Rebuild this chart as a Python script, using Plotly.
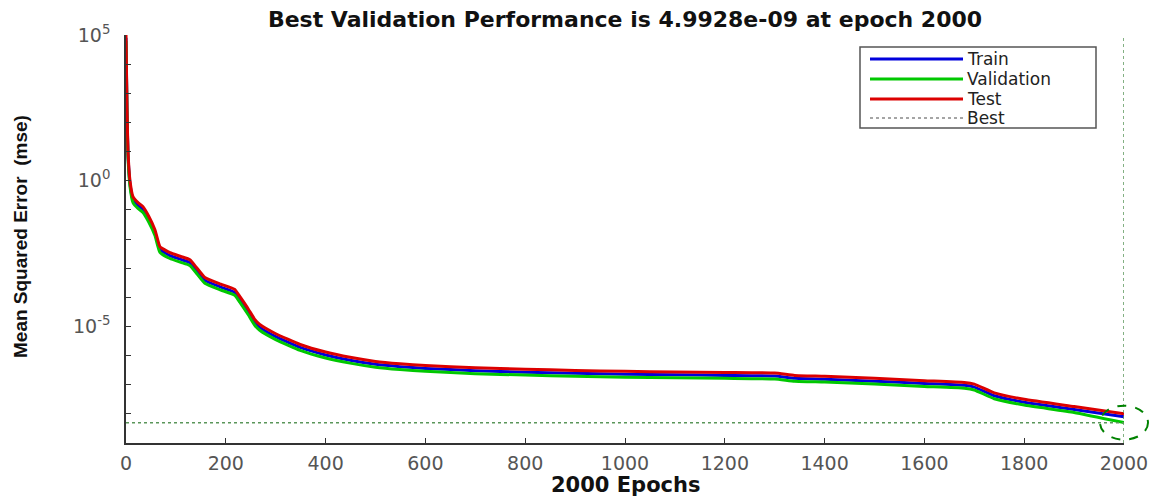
import math
import plotly.graph_objects as go

# ---- data ----
epochs = [0, 2, 4, 8, 14, 24, 34, 45, 58, 68,
          88, 110, 128, 140, 158, 190, 218, 228, 245, 258,
          268, 300, 349, 400, 449, 500, 549, 600, 700, 800,
          900, 1000, 1100, 1200, 1300, 1340, 1400, 1500, 1600, 1680,
          1700, 1740, 1800, 1900, 2000]

test_mse = [1e5, 3.16e2, 1e1, 1.0, 0.282, 0.178, 0.129, 0.0631, 0.0209, 5.5e-3,
            3.39e-3, 2.51e-3, 1.95e-3, 1.12e-3, 4.79e-4, 2.82e-4, 1.86e-4, 1.07e-4, 3.98e-5, 1.74e-5,
            1.17e-5, 5.62e-6, 2.40e-6, 1.32e-6, 8.71e-7, 6.31e-7, 5.25e-7, 4.57e-7, 3.80e-7, 3.39e-7,
            3.09e-7, 2.88e-7, 2.75e-7, 2.63e-7, 2.51e-7, 2.09e-7, 1.95e-7, 1.66e-7, 1.38e-7, 1.20e-7,
            1.05e-7, 5.25e-8, 3.16e-8, 1.78e-8, 1.0e-8]

train_mse = [8e4, 2.5e2, 7.9, 0.79, 0.224, 0.141, 0.102, 0.0501, 0.0166, 4.37e-3,
             2.69e-3, 1.99e-3, 1.55e-3, 8.9e-4, 3.8e-4, 2.24e-4, 1.48e-4, 8.5e-5, 3.16e-5, 1.38e-5,
             9.3e-6, 4.47e-6, 1.91e-6, 1.05e-6, 6.9e-7, 5.0e-7, 4.17e-7, 3.63e-7, 3.02e-7, 2.69e-7,
             2.45e-7, 2.29e-7, 2.18e-7, 2.09e-7, 1.99e-7, 1.66e-7, 1.55e-7, 1.32e-7, 1.10e-7, 9.5e-8,
             8.3e-8, 4.17e-8, 2.51e-8, 1.41e-8, 7.9e-9]

val_mse = [6.3e4, 2.0e2, 6.3, 0.631, 0.178, 0.112, 0.0813, 0.0398, 0.0132, 3.47e-3,
           2.14e-3, 1.58e-3, 1.23e-3, 7.1e-4, 3.02e-4, 1.78e-4, 1.17e-4, 6.8e-5, 2.51e-5, 1.10e-5,
           7.4e-6, 3.55e-6, 1.51e-6, 8.3e-7, 5.5e-7, 3.98e-7, 3.31e-7, 2.88e-7, 2.40e-7, 2.14e-7,
           1.95e-7, 1.82e-7, 1.74e-7, 1.66e-7, 1.58e-7, 1.32e-7, 1.23e-7, 1.05e-7, 8.7e-8, 7.6e-8,
           6.6e-8, 3.31e-8, 2.0e-8, 1.12e-8, 4.9928e-9]

best_epoch = 2000
best_value = 4.9928e-9

x_ticks = [0, 200, 400, 600, 800, 1000, 1200, 1400, 1600, 1800, 2000]
y_major = [1e-5, 1e0, 1e5]
y_major_labels = ["10<sup>-5</sup>", "10<sup>0</sup>", "10<sup>5</sup>"]
y_minor = [1e-8, 1e-7, 1e-6, 1e-4, 1e-3, 1e-2, 1e-1, 1e1, 1e2, 1e3, 1e4]

series_names = ["Train", "Validation", "Test", "Best"]
series_colors = ["rgb(0,0,220)", "rgb(0,200,0)", "rgb(220,0,0)", "rgb(90,150,90)"]

y_min, y_max = 1e-9, 1e5

# ---- layout geometry (the page has an 8px body margin) ----
OFF = 8
W, H = 1163 - OFF, 500 - OFF
ml, mr, mt, mb = 126 - OFF, 39, 35 - OFF, 57
PW, PH = W - ml - mr, H - mt - mb


def px(page_x):
    return (page_x - OFF - ml) / PW


def py(page_y):
    return (H - mb - (page_y - OFF)) / PH


fig = go.Figure()
line_kw = dict(shape="spline", smoothing=0.4)
for name, vals, col in zip(series_names[:3], [train_mse, val_mse, test_mse], series_colors[:3]):
    fig.add_trace(go.Scatter(x=epochs, y=vals, mode="lines", name=name,
                             line=dict(color=col, width=3, **line_kw)))
fig.add_trace(go.Scatter(x=[0, best_epoch, None, best_epoch, best_epoch],
                         y=[best_value, best_value, None, y_min, y_max],
                         mode="lines", name="Best",
                         line=dict(color=series_colors[3], width=1.5, dash="dot")))

log_lo, log_hi = math.log10(y_min), math.log10(y_max)
best_paper_y = (math.log10(best_value) - log_lo) / (log_hi - log_lo)

# dashed circle round the best point
fig.add_shape(type="circle", xref="paper", yref="paper",
              xsizemode="pixel", ysizemode="pixel",
              xanchor=1.0, yanchor=best_paper_y,
              x0=-24, x1=24, y0=-17, y1=17,
              line=dict(color="rgb(0,130,0)", width=2, dash="dash"))

# legend box (drawn by hand to match the MATLAB style)
fig.add_shape(type="rect", xref="paper", yref="paper",
              x0=px(860), x1=px(1096), y0=py(128), y1=py(47),
              fillcolor="white", line=dict(color="#555555", width=1.5), layer="above")
legend_rows = [59, 79, 99, 118]
for name, col, row in zip(series_names, series_colors, legend_rows):
    is_best = name == "Best"
    fig.add_shape(type="line", xref="paper", yref="paper",
                  x0=px(870), x1=px(963), y0=py(row), y1=py(row), layer="above",
                  line=dict(color=("#888888" if is_best else col),
                            width=(1.5 if is_best else 3),
                            dash=("dot" if is_best else "solid")))
    fig.add_annotation(text=name, xref="paper", yref="paper", x=px(965), y=py(row),
                       xanchor="left", yanchor="middle", showarrow=False,
                       font=dict(family="DejaVu Sans", size=17, color="#222222"))

tick_font = dict(family="DejaVu Sans", size=19, color="#555555")

fig.update_layout(
    width=W, height=H,
    margin=dict(l=ml, r=mr, t=mt, b=mb),
    paper_bgcolor="white", plot_bgcolor="white",
    title=dict(text="<b>Best Validation Performance is 4.9928e-09 at epoch 2000</b>",
               x=0.5, xref="paper", y=1 - (19 - OFF) / H, yref="container",
               xanchor="center", yanchor="middle",
               font=dict(family="DejaVu Sans", size=22, color="#111111")),
    showlegend=False,
    xaxis=dict(range=[0, 2000], tickvals=x_ticks,
               ticks="inside", ticklen=5, tickcolor="#333333",
               showline=True, linecolor="#333333", linewidth=1.5,
               showgrid=False, zeroline=False, tickfont=tick_font,
               ticklabelstandoff=2),
    yaxis=dict(type="log", range=[log_lo, log_hi],
               tickvals=y_major, ticktext=y_major_labels,
               ticks="inside", ticklen=5, tickcolor="#333333",
               minor=dict(tickvals=y_minor, ticks="inside", ticklen=5, tickcolor="#333333"),
               showline=True, linecolor="#333333", linewidth=1.5,
               showgrid=False, zeroline=False, tickfont=tick_font,
               ticklabelstandoff=10),
)

fig.add_annotation(text="<b>2000 Epochs</b>", xref="paper", yref="paper",
                   x=0.5, y=py(485),
                   xanchor="center", yanchor="middle", showarrow=False,
                   font=dict(family="DejaVu Sans", size=21, color="#111111"))
fig.add_annotation(text="<b>Mean Squared Error  (mse)</b>", xref="paper", yref="paper",
                   x=px(20), y=py(237),
                   xanchor="center", yanchor="middle", showarrow=False, textangle=-90,
                   font=dict(family="Liberation Sans", size=19, color="#111111"))

fig.write_html("out.html")
